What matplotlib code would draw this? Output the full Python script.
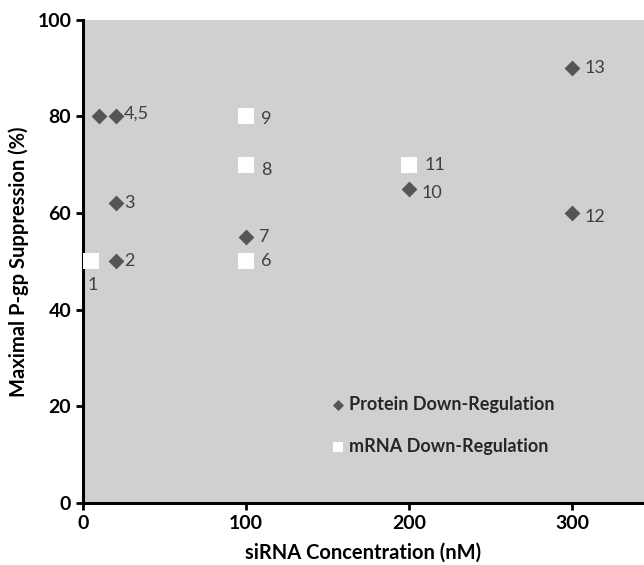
import matplotlib
matplotlib.use("Agg")
import matplotlib.pyplot as plt

# protein down-regulation (diamonds)
prot_x = [20, 20, 10, 20, 100, 200, 300, 300]
prot_y = [50, 62, 80, 80, 55, 65, 60, 90]
prot_lab = ["2", "3", "", "4,5", "7", "10", "12", "13"]

# mRNA down-regulation (squares)
mrna_x = [5, 100, 100, 100, 200]
mrna_y = [50, 50, 70, 80, 70]
mrna_lab = ["1", "6", "8", "9", "11"]

plt.rcParams['font.family'] = ['Lato', 'DejaVu Sans']

fig = plt.figure(figsize=(6.44, 5.65), dpi=100)
ax = fig.add_axes([0.129, 0.110, 0.871, 0.855])
ax.set_facecolor("#d0d0d0")

ax.scatter(prot_x, prot_y, marker="D", s=65, color="#555555", linewidths=0,
           label="Protein Down-Regulation", zorder=3)
ax.scatter(mrna_x, mrna_y, marker="s", s=120, color="white", linewidths=0,
           label="mRNA Down-Regulation", zorder=3)

lab_col = "#404040"
prot_off = {"2": (6, 0), "3": (6, 0), "4,5": (6, 2), "7": (9, 0),
            "10": (9, -3), "12": (9, -3), "13": (9, 0)}
for x, y, t in zip(prot_x, prot_y, prot_lab):
    if t:
        ax.annotate(t, (x, y), xytext=prot_off[t], textcoords="offset points",
                    ha="left", va="center", fontsize=13, color=lab_col)

mrna_off = {"1": (-3, -17), "6": (11, 0), "8": (11, -4), "9": (11, -2),
            "11": (11, 0)}
for x, y, t in zip(mrna_x, mrna_y, mrna_lab):
    ax.annotate(t, (x, y), xytext=mrna_off[t], textcoords="offset points",
                ha="left", va="center", fontsize=13, color=lab_col)

ax.set_xlim(0, 344)
ax.set_ylim(0, 100)
ax.set_xticks([0, 100, 200, 300])
ax.set_yticks([0, 20, 40, 60, 80, 100])
for s in ["top", "right"]:
    ax.spines[s].set_visible(False)
for s in ["left", "bottom"]:
    ax.spines[s].set_linewidth(2.2)
ax.tick_params(width=2, length=5, labelsize=14)
for lbl in ax.get_xticklabels() + ax.get_yticklabels():
    lbl.set_fontweight("bold")

ax.set_xlabel("siRNA Concentration (nM)", fontsize=14.5, fontweight="bold", labelpad=8)
ax.set_ylabel("Maximal P-gp Suppression (%)", fontsize=14.5, fontweight="bold", labelpad=6)

leg = ax.legend(loc="lower left", bbox_to_anchor=(0.41, 0.065), frameon=False,
                prop={"weight": "bold", "size": 13}, handletextpad=0.1,
                labelspacing=1.4, markerscale=0.7, handlelength=1.0)
for t in leg.get_texts():
    t.set_color("#262626")

fig.savefig("out.png", dpi=100)
